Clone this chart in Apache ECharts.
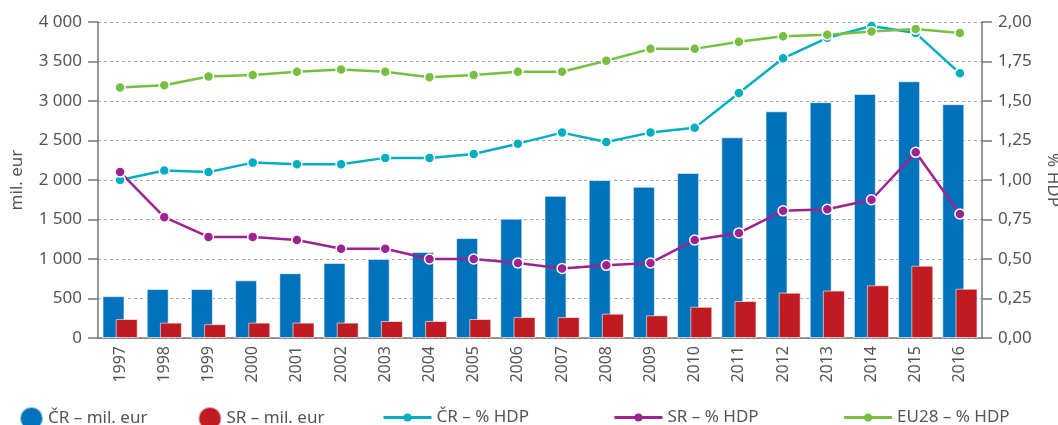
<!DOCTYPE html>
<html>
<head>
<meta charset="utf-8">
<script src="https://cdn.jsdelivr.net/npm/echarts@6/dist/echarts.min.js"></script>
<style>
  html, body { margin: 0; padding: 0; background: #fff; }
  #chart { width: 1058px; height: 425px; }
</style>
</head>
<body>
<div id="chart"></div>
<script>
const years = ['1997','1998','1999','2000','2001','2002','2003','2004','2005','2006',
               '2007','2008','2009','2010','2011','2012','2013','2014','2015','2016'];
// mil. eur
const crMil = [530, 620, 620, 730, 820, 950, 1000, 1090, 1265, 1510,
               1800, 2000, 1915, 2090, 2540, 2870, 2985, 3090, 3250, 2960];
const srMil = [240, 195, 175, 195, 195, 195, 215, 215, 240, 265,
               265, 308, 287, 395, 468, 574, 600, 667, 915, 624];
// % HDP
const crPct = [1.00, 1.06, 1.05, 1.11, 1.10, 1.10, 1.14, 1.14, 1.165, 1.23,
               1.30, 1.24, 1.30, 1.33, 1.55, 1.77, 1.90, 1.975, 1.93, 1.675];
const srPct = [1.05, 0.765, 0.64, 0.64, 0.62, 0.565, 0.565, 0.50, 0.50, 0.475,
               0.44, 0.46, 0.475, 0.62, 0.665, 0.805, 0.815, 0.875, 1.175, 0.785];
const euPct = [1.585, 1.60, 1.655, 1.665, 1.685, 1.70, 1.685, 1.65, 1.665, 1.685,
               1.685, 1.755, 1.83, 1.83, 1.875, 1.91, 1.92, 1.94, 1.955, 1.93];

const FONT = 'Noto Sans';
const TXT = '#555';
const AXIS = '#777';

const chart = echarts.init(document.getElementById('chart'), null, { renderer: 'canvas' });

function lineSeries(name, data, color) {
  return {
    name: name,
    type: 'line',
    yAxisIndex: 1,
    data: data,
    symbol: 'circle',
    symbolSize: 10,
    lineStyle: { color: color, width: 2.5 },
    itemStyle: { color: color, borderColor: '#fff', borderWidth: 1.5 },
    z: 5
  };
}

chart.setOption({
  animation: false,
  textStyle: { fontFamily: FONT },
  grid: { left: 98, right: 76, top: 22, bottom: 87, containLabel: false, outerBoundsMode: 'none' },
  legend: [
    {
      data: ['ČR – mil. eur', 'SR – mil. eur'],
      left: 14, top: 401,
      icon: 'circle',
      itemWidth: 23, itemHeight: 23,
      itemGap: 50,
      textStyle: { color: TXT, fontSize: 17, fontFamily: FONT }
    },
    {
      data: ['ČR – % HDP', 'SR – % HDP', 'EU28 – % HDP'],
      left: 377, top: 404,
      itemWidth: 48, itemHeight: 10,
      itemGap: 84,
      lineStyle: { width: 3 },
      itemStyle: { borderWidth: 0 },
      textStyle: { color: TXT, fontSize: 17, fontFamily: FONT }
    }
  ],
  xAxis: {
    type: 'category',
    data: years,
    axisLine: { lineStyle: { color: AXIS, width: 1.5 } },
    axisTick: { show: false },
    axisLabel: { rotate: 90, color: TXT, fontSize: 16, margin: 8 }
  },
  yAxis: [
    {
      type: 'value',
      min: 0, max: 4000, interval: 500,
      name: 'mil. eur',
      nameLocation: 'middle',
      nameGap: 72,
      nameTextStyle: { color: TXT, fontSize: 17 },
      axisLine: { show: true, lineStyle: { color: AXIS, width: 1.5 } },
      axisTick: { show: true, length: 10, lineStyle: { color: AXIS, width: 1.5 } },
      axisLabel: {
        color: TXT, fontSize: 17, margin: 16,
        formatter: v => String(v).replace(/\B(?=(\d{3})+(?!\d))/g, ' ')
      },
      splitLine: { lineStyle: { color: '#aaa', type: [3, 3], width: 1 } }
    },
    {
      type: 'value',
      min: 0, max: 2, interval: 0.25,
      position: 'right',
      name: '% HDP',
      nameLocation: 'middle',
      nameRotate: -90,
      nameGap: 62,
      nameTextStyle: { color: TXT, fontSize: 17 },
      axisLine: { show: true, lineStyle: { color: AXIS, width: 1.5 } },
      axisTick: { show: true, length: 10, lineStyle: { color: AXIS, width: 1.5 } },
      axisLabel: {
        color: TXT, fontSize: 17, margin: 16,
        formatter: v => v.toFixed(2).replace('.', ',')
      },
      splitLine: { show: false }
    }
  ],
  series: [
    {
      name: 'ČR – mil. eur',
      type: 'bar',
      data: crMil,
      barWidth: 22,
      barGap: '-40%',
      itemStyle: { color: '#0071BB', borderColor: 'rgba(255,255,255,0.6)', borderWidth: 1 }
    },
    {
      name: 'SR – mil. eur',
      type: 'bar',
      data: srMil,
      barWidth: 22,
      barGap: '-40%',
      itemStyle: { color: '#BE1B22', borderColor: 'rgba(255,255,255,0.6)', borderWidth: 1 }
    },
    lineSeries('ČR – % HDP', crPct, '#00AEBF'),
    lineSeries('SR – % HDP', srPct, '#9C2390'),
    lineSeries('EU28 – % HDP', euPct, '#77BE42')
  ]
});
</script>
</body>
</html>
